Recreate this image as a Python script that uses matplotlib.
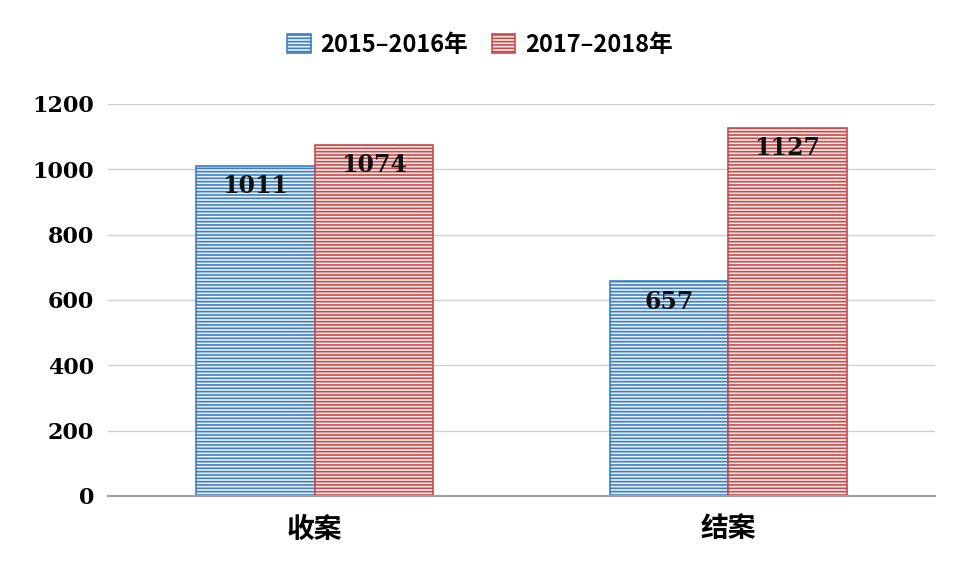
import matplotlib
matplotlib.use("Agg")
import matplotlib.pyplot as plt
import numpy as np

plt.rcParams['font.family'] = ['Noto Sans CJK SC', 'DejaVu Sans']
plt.rcParams['hatch.linewidth'] = 1.2

categories = ['收案', '结案']
series_names = ['2015–2016年', '2017–2018年']
vals_a = [1011, 657]
vals_b = [1074, 1127]
yticks = [0, 200, 400, 600, 800, 1000, 1200]

fig = plt.figure(figsize=(9.6, 5.76), dpi=100)
ax = fig.add_axes([108/960, 1-496/576, (935-108)/960, (496-104)/576])
x = np.arange(len(categories))
w = 0.286
blue = '#3d7fc4'; red = '#c94a4a'
plt.rcParams['hatch.color'] = blue
ba = ax.bar(x - w/2, vals_a, w, facecolor='#eef3fa', edgecolor=blue, hatch='-----', linewidth=1.2, label=series_names[0])
for b in ba: b.set_edgecolor(blue)
bb = ax.bar(x + w/2, vals_b, w, facecolor='#faeeee', edgecolor=red, hatch='-----', linewidth=1.2, label=series_names[1])
for b in bb: b._hatch_color = matplotlib.colors.to_rgba(red)
for b in ba: b._hatch_color = matplotlib.colors.to_rgba(blue)

for bars, vals in ((ba, vals_a), (bb, vals_b)):
    for b, v in zip(bars, vals):
        ax.text(b.get_x() + b.get_width()/2, v - 25, str(v), ha='center', va='top',
                fontsize=17, fontweight='bold', color='#111111', family='DejaVu Serif')

ax.set_xlim(-0.5, 1.5)
ax.set_ylim(0, 1200)
ax.set_yticks(yticks)
ax.set_yticklabels([str(t) for t in yticks], fontsize=16, fontweight='bold', family='DejaVu Serif')
ax.set_xticks(x)
ax.set_xticklabels(categories, fontsize=20, fontweight='bold')
ax.tick_params(length=0, pad=10)
ax.tick_params(axis='x', pad=14)
ax.grid(axis='y', color='#d0d0d0', linewidth=1)
ax.set_axisbelow(True)
for s in ['top', 'right', 'left']:
    ax.spines[s].set_visible(False)
ax.spines['bottom'].set_color('#a0a0a0')
ax.spines['bottom'].set_linewidth(1.5)

leg = fig.legend(loc='upper center', bbox_to_anchor=(0.5, 0.98), ncol=2, frameon=False,
                 prop={'size': 17, 'weight': 'bold'}, handlelength=1.0, handleheight=0.9, columnspacing=1.0, handletextpad=0.4)
fig.savefig('out.png', dpi=100)
